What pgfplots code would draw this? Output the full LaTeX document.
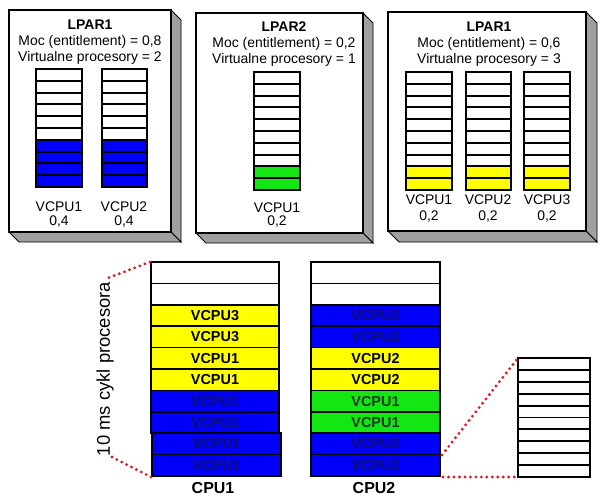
\documentclass[border=0pt]{standalone}
\usepackage{pgfplots}
\pgfplotsset{compat=1.18}
\usepackage{fontspec}
\setmainfont{Liberation Sans}
\definecolor{cblue}{RGB}{0,0,250}
\definecolor{cyel}{RGB}{255,255,0}
\definecolor{cgreen}{RGB}{20,230,20}
\definecolor{shade}{RGB}{160,160,160}
\definecolor{dred}{RGB}{215,30,40}
\definecolor{navy}{RGB}{15,15,110}
\definecolor{dgreen}{RGB}{20,60,20}
\newcommand{\tfont}{\fontsize{14}{16}\selectfont}
\newcommand{\cellfont}{\bfseries\fontsize{14.5}{16}\selectfont}
% rectangle: x1 y1 x2 y2 fill
\newcommand{\rect}[5]{\addplot[draw=black, line width=1.7pt, fill=#5] coordinates {(#1,#2) (#3,#2) (#3,#4) (#1,#4)} -- cycle;}
% vertical column of 10 cells: x1 x2 ytop ybot ncolored color
\newcommand{\vcol}[6]{%
  \pgfmathsetmacro\hh{(#4-#3)/10}%
  \ifnum#5>0
    \pgfmathsetmacro\yc{#4-#5*\hh}%
    \edef\tmp{\noexpand\addplot[draw=none, fill=#6] coordinates {(#1,#4) (#2,#4) (#2,\yc) (#1,\yc)} -- cycle;}\tmp
  \fi
  \pgfplotsforeachungrouped \k in {1,...,9}{%
    \pgfmathsetmacro\yl{#3+\k*\hh}%
    \edef\tmp{\noexpand\addplot[black, line width=1.9pt] coordinates {(#1,\yl) (#2,\yl)};}\tmp
  }%
  \addplot[draw=black, line width=1.9pt, fill=none] coordinates {(#1,#3) (#2,#3) (#2,#4) (#1,#4)} -- cycle;
}
% bottom cell: x1 x2 index color label textcolor
\newcommand{\bcell}[6]{%
  \pgfmathsetmacro\ya{262+#3*21.4}%
  \pgfmathsetmacro\yb{262+(#3+1)*21.4}%
  \pgfmathsetmacro\xc{(#1+#2)/2}%
  \pgfmathsetmacro\ym{262+(#3+0.5)*21.4}%
  \edef\tmp{\noexpand\rect{#1}{\ya}{#2}{\yb}{#4}%
    \noexpand\node[text=#6, font=\noexpand\cellfont] at (axis cs:\xc,\ym) {#5};}\tmp}
\begin{document}
\begin{tikzpicture}
\begin{axis}[width=608bp, height=496bp, scale only axis,
  xmin=0, xmax=608, ymin=0, ymax=496, y dir=reverse,
  hide axis, clip=false]
\addplot[fill=white, draw=none] coordinates {(0,0) (608,0) (608,496) (0,496)} -- cycle;
% ---- LPAR boxes with 3D shadow ----
\addplot[draw=black, line width=0.9pt, fill=shade] coordinates {(171,10) (181,20) (181,242) (171,232)} -- cycle;
\addplot[draw=black, line width=0.9pt, fill=shade] coordinates {(9,232) (19,242) (181,242) (171,232)} -- cycle;
\addplot[draw=black, line width=1.2pt, fill=white] coordinates {(9,10) (171,10) (171,232) (9,232)} -- cycle;
\addplot[draw=black, line width=0.9pt, fill=shade] coordinates {(363,13) (373,23) (373,243) (363,233)} -- cycle;
\addplot[draw=black, line width=0.9pt, fill=shade] coordinates {(196,233) (206,243) (373,243) (363,233)} -- cycle;
\addplot[draw=black, line width=1.2pt, fill=white] coordinates {(196,13) (363,13) (363,233) (196,233)} -- cycle;
\addplot[draw=black, line width=0.9pt, fill=shade] coordinates {(586,12) (597,23) (597,242) (586,231)} -- cycle;
\addplot[draw=black, line width=0.9pt, fill=shade] coordinates {(388,231) (399,242) (597,242) (586,231)} -- cycle;
\addplot[draw=black, line width=1.2pt, fill=white] coordinates {(388,12) (586,12) (586,231) (388,231)} -- cycle;
% ---- top columns ----
\vcol{36}{82}{69}{187}{4}{cblue}
\vcol{102}{147}{69}{187}{4}{cblue}
\vcol{254}{300}{72}{190}{2}{cgreen}
\vcol{406}{452}{72}{190}{2}{cyel}
\vcol{466}{511}{72}{190}{2}{cyel}
\vcol{524}{570}{72}{190}{2}{cyel}
% ---- titles ----
\node[font=\tfont\bfseries] at (axis cs:90,25) {LPAR1};
\node[font=\tfont] at (axis cs:90,42) {Moc (entitlement) = 0,8};
\node[font=\tfont] at (axis cs:90,58) {Virtualne procesory = 2};
\node[font=\tfont] at (axis cs:59,207) {VCPU1};
\node[font=\tfont] at (axis cs:59,222) {0,4};
\node[font=\tfont] at (axis cs:124,207) {VCPU2};
\node[font=\tfont] at (axis cs:124,222) {0,4};
\node[font=\tfont\bfseries] at (axis cs:284,27) {LPAR2};
\node[font=\tfont] at (axis cs:284,44) {Moc (entitlement) = 0,2};
\node[font=\tfont] at (axis cs:284,60) {Virtualne procesory = 1};
\node[font=\tfont] at (axis cs:277,208) {VCPU1};
\node[font=\tfont] at (axis cs:277,222) {0,2};
\node[font=\tfont\bfseries] at (axis cs:489,27) {LPAR1};
\node[font=\tfont] at (axis cs:489,44) {Moc (entitlement) = 0,6};
\node[font=\tfont] at (axis cs:489,60) {Virtualne procesory = 3};
\node[font=\tfont] at (axis cs:429,200) {VCPU1};
\node[font=\tfont] at (axis cs:429,217) {0,2};
\node[font=\tfont] at (axis cs:488,200) {VCPU2};
\node[font=\tfont] at (axis cs:488,217) {0,2};
\node[font=\tfont] at (axis cs:547,200) {VCPU3};
\node[font=\tfont] at (axis cs:547,217) {0,2};
% ---- CPU1 ----
\bcell{151}{279}{0}{white}{}{black}
\bcell{151}{279}{1}{white}{}{black}
\bcell{151}{279}{2}{cyel}{VCPU3}{black}
\bcell{151}{279}{3}{cyel}{VCPU3}{black}
\bcell{151}{279}{4}{cyel}{VCPU1}{black}
\bcell{151}{279}{5}{cyel}{VCPU1}{black}
\bcell{151}{279}{6}{cblue}{VCPU1}{navy}
\bcell{151}{279}{7}{cblue}{VCPU1}{navy}
\bcell{152}{281}{8}{cblue}{VCPU1}{navy}
\bcell{152}{281}{9}{cblue}{VCPU1}{navy}
% ---- CPU2 ----
\bcell{311}{440}{0}{white}{}{black}
\bcell{311}{440}{1}{white}{}{black}
\bcell{311}{440}{2}{cblue}{VCPU2}{navy}
\bcell{311}{440}{3}{cblue}{VCPU2}{navy}
\bcell{311}{440}{4}{cyel}{VCPU2}{black}
\bcell{311}{440}{5}{cyel}{VCPU2}{black}
\bcell{311}{440}{6}{cgreen}{VCPU1}{dgreen}
\bcell{311}{440}{7}{cgreen}{VCPU1}{dgreen}
\bcell{311}{440}{8}{cblue}{VCPU2}{navy}
\bcell{311}{440}{9}{cblue}{VCPU2}{navy}
% ---- small column ----
\vcol{518}{590}{358}{477}{0}{white}
% ---- red dotted lines ----
\addplot[dred, line width=3.2pt, line cap=round, dash pattern=on 0pt off 5.5pt] coordinates {(150,262) (108,278)};
\addplot[dred, line width=3.2pt, line cap=round, dash pattern=on 0pt off 5.5pt] coordinates {(151,477) (108,455)};
\addplot[dred, line width=3.2pt, line cap=round, dash pattern=on 0pt off 5.5pt] coordinates {(442,455) (518,358)};
\addplot[dred, line width=3.2pt, line cap=round, dash pattern=on 0pt off 5.5pt] coordinates {(443,477) (518,477)};
% ---- labels ----
\node[font=\fontsize{16}{18}\selectfont\bfseries] at (axis cs:213,488) {CPU1};
\node[font=\fontsize{16}{18}\selectfont\bfseries] at (axis cs:374,488) {CPU2};
\node[font=\fontsize{18.5}{20}\selectfont, rotate=90] at (axis cs:105,369) {10 ms cykl procesora};
\end{axis}
\end{tikzpicture}
\end{document}
